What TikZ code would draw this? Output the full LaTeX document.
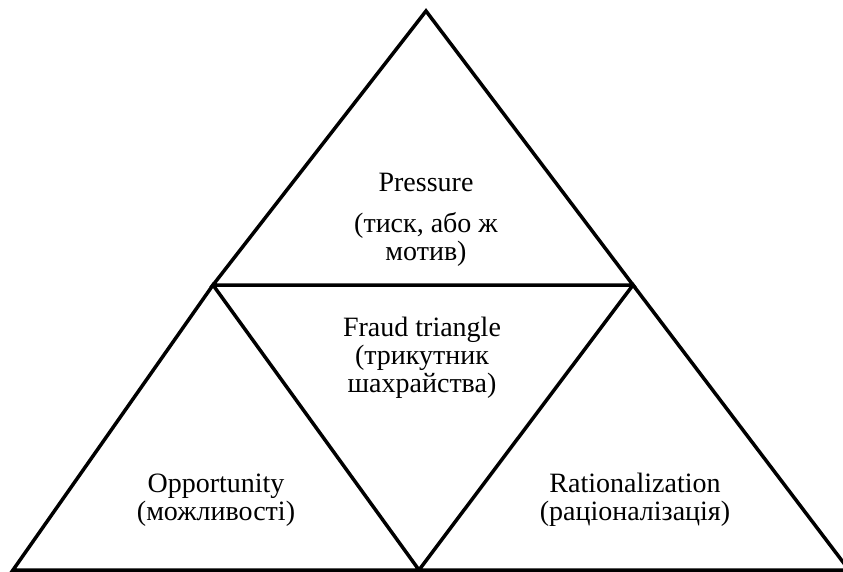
\documentclass[tikz,border=0pt]{standalone}
\usepackage{fontspec}
\setmainfont{Liberation Serif}
\tikzset{
  tri/.style={draw=black,line width=3.5pt,line join=miter},
  lbl/.style={align=center,inner sep=0pt,font=\fontsize{28}{28}\selectfont},
}
\begin{document}
\begin{tikzpicture}[x=1pt,y=-1pt]
  \useasboundingbox (0,0) rectangle (843,572);

  % corners of the three triangles
  \coordinate (apex) at (426,11);
  \coordinate (midL) at (213,285);
  \coordinate (midR) at (633,285);
  \coordinate (botL) at (13,570);
  \coordinate (botM) at (419,570);
  \coordinate (botR) at (849,570);

  \draw[tri] (apex) -- (midL) -- (midR) -- cycle;
  \draw[tri] (midL) -- (botL) -- (botM) -- cycle;
  \draw[tri] (midR) -- (botM) -- (botR) -- cycle;

  % base anchor sits on the last line
  \node[lbl,anchor=base] (pressure) at (426,192) {Pressure};
  \node[lbl,anchor=base] (pressureUa) at (426,260) {(тиск, або ж\\мотив)};
  \node[lbl,anchor=base] (fraud) at (422,392)
    {Fraud triangle\\(трикутник\\шахрайства)};
  \node[lbl,anchor=base] (opportunity) at (216,520)
    {Opportunity\\(можливості)};
  \node[lbl,anchor=base] (rational) at (635,520)
    {Rationalization\\(раціоналізація)};

\end{tikzpicture}
\end{document}
